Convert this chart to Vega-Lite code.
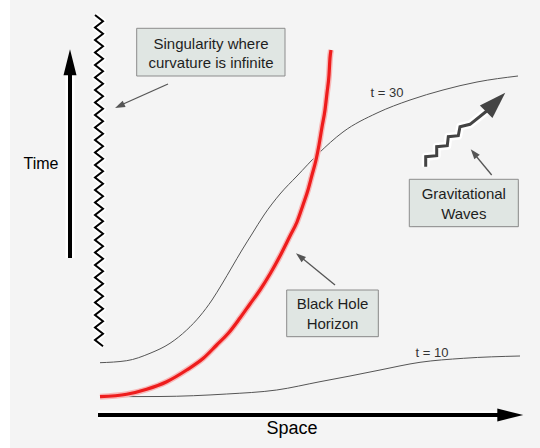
{
  "$schema": "https://vega.github.io/schema/vega-lite/v6.json",
  "width": 540,
  "height": 448,
  "padding": 0,
  "autosize": {"type": "fit", "contains": "padding"},
  "background": "#f4f4f4",
  "config": {"view": {"stroke": null}},
  "datasets": {
    "strip": [{"x": 0, "x2": 10, "y": 0, "y2": 448}],
    "boxes": [
      {"x": 136.7, "x2": 285, "y": 28.3, "y2": 76},
      {"x": 409.3, "x2": 518.3, "y": 179.3, "y2": 226.7},
      {"x": 286.7, "x2": 378.3, "y": 290, "y2": 336.7}
    ],
    "boxText": [
      {"x": 211, "y": 43.5, "t": "Singularity where"},
      {"x": 211, "y": 63, "t": "curvature is infinite"},
      {"x": 463.8, "y": 193.5, "t": "Gravitational"},
      {"x": 463.8, "y": 213.5, "t": "Waves"},
      {"x": 332.5, "y": 304, "t": "Black Hole"},
      {"x": 332.5, "y": 323.5, "t": "Horizon"}
    ],
    "zig": [
      {"x": 95, "y": 15}, {"x": 103, "y": 21.25}, {"x": 95, "y": 27.5}, {"x": 103, "y": 33.75},
      {"x": 95, "y": 40}, {"x": 103, "y": 46.25}, {"x": 95, "y": 52.5}, {"x": 103, "y": 58.75},
      {"x": 95, "y": 65}, {"x": 103, "y": 71.25}, {"x": 95, "y": 77.5}, {"x": 103, "y": 83.75},
      {"x": 95, "y": 90}, {"x": 103, "y": 96.25}, {"x": 95, "y": 102.5}, {"x": 103, "y": 108.75},
      {"x": 95, "y": 115}, {"x": 103, "y": 121.25}, {"x": 95, "y": 127.5}, {"x": 103, "y": 133.75},
      {"x": 95, "y": 140}, {"x": 103, "y": 146.25}, {"x": 95, "y": 152.5}, {"x": 103, "y": 158.75},
      {"x": 95, "y": 165}, {"x": 103, "y": 171.25}, {"x": 95, "y": 177.5}, {"x": 103, "y": 183.75},
      {"x": 95, "y": 190}, {"x": 103, "y": 196.25}, {"x": 95, "y": 202.5}, {"x": 103, "y": 208.75},
      {"x": 95, "y": 215}, {"x": 103, "y": 221.25}, {"x": 95, "y": 227.5}, {"x": 103, "y": 233.75},
      {"x": 95, "y": 240}, {"x": 103, "y": 246.25}, {"x": 95, "y": 252.5}, {"x": 103, "y": 258.75},
      {"x": 95, "y": 265}, {"x": 103, "y": 271.25}, {"x": 95, "y": 277.5}, {"x": 103, "y": 283.75},
      {"x": 95, "y": 290}, {"x": 103, "y": 296.25}, {"x": 95, "y": 302.5}, {"x": 103, "y": 308.75},
      {"x": 95, "y": 315}, {"x": 103, "y": 321.25}, {"x": 95, "y": 327.5}, {"x": 103, "y": 333.75},
      {"x": 95, "y": 340}, {"x": 103, "y": 346.25}
    ],
    "red": [
      {"x": 100, "y": 396.7}, {"x": 126.7, "y": 394.3}, {"x": 146.7, "y": 389.3}, {"x": 166.7, "y": 381.7},
      {"x": 186.7, "y": 370}, {"x": 203.3, "y": 358.3}, {"x": 216.7, "y": 345}, {"x": 228.3, "y": 333.3},
      {"x": 240, "y": 318}, {"x": 250, "y": 304}, {"x": 260, "y": 290}, {"x": 270, "y": 274},
      {"x": 280, "y": 256}, {"x": 290, "y": 236}, {"x": 297, "y": 222}, {"x": 303, "y": 205},
      {"x": 308, "y": 190}, {"x": 312, "y": 175}, {"x": 316, "y": 160}, {"x": 319, "y": 145},
      {"x": 322, "y": 127}, {"x": 325, "y": 110}, {"x": 327, "y": 93}, {"x": 329, "y": 75},
      {"x": 330, "y": 58}, {"x": 331, "y": 50}
    ],
    "t30": [
      {"x": 100, "y": 362.7}, {"x": 126.7, "y": 360.7}, {"x": 150, "y": 353.3}, {"x": 170, "y": 343.3},
      {"x": 186.7, "y": 330}, {"x": 200, "y": 316}, {"x": 212, "y": 300}, {"x": 222, "y": 284},
      {"x": 232, "y": 267}, {"x": 242, "y": 250}, {"x": 252, "y": 234}, {"x": 264, "y": 215},
      {"x": 280, "y": 194}, {"x": 297, "y": 176}, {"x": 318, "y": 154}, {"x": 343, "y": 132},
      {"x": 377, "y": 113}, {"x": 410, "y": 100}, {"x": 443, "y": 90}, {"x": 477, "y": 82},
      {"x": 518, "y": 76}
    ],
    "t10": [
      {"x": 100, "y": 396.7}, {"x": 160, "y": 396.5}, {"x": 226.7, "y": 394}, {"x": 276.7, "y": 390},
      {"x": 320, "y": 381.7}, {"x": 350, "y": 376}, {"x": 380, "y": 370}, {"x": 420, "y": 362.3},
      {"x": 463.3, "y": 358.3}, {"x": 520, "y": 356}
    ],
    "wave": [
      {"x": 425.7, "y": 166.7}, {"x": 425.7, "y": 156.7}, {"x": 436.7, "y": 155.7}, {"x": 436.7, "y": 146.7},
      {"x": 447.3, "y": 145.7}, {"x": 448.3, "y": 136.7}, {"x": 458.3, "y": 135.7}, {"x": 460, "y": 126.7},
      {"x": 470, "y": 124.3}, {"x": 488, "y": 110}
    ],
    "bigShafts": [
      {"x": 70, "y": 258, "x2": 70, "y2": 70},
      {"x": 98, "y": 415, "x2": 500, "y2": 415}
    ],
    "smallShafts": [
      {"x": 168, "y": 84, "x2": 121, "y2": 105},
      {"x": 335, "y": 285, "x2": 302, "y2": 258},
      {"x": 491.7, "y": 175, "x2": 476, "y2": 156}
    ]
  },
  "encoding": {
    "x": {"field": "x", "type": "quantitative", "scale": {"domain": [0, 540], "nice": false, "zero": false}, "axis": null},
    "y": {"field": "y", "type": "quantitative", "scale": {"domain": [0, 448], "nice": false, "zero": false, "reverse": true}, "axis": null}
  },
  "layer": [
    {"data": {"name": "strip"}, "mark": {"type": "rect", "fill": "#ffffff"},
     "encoding": {"x2": {"field": "x2"}, "y2": {"field": "y2"}}},
    {"data": {"name": "boxes"}, "mark": {"type": "rect", "fill": "#707070", "xOffset": 3, "yOffset": 3},
     "encoding": {"x2": {"field": "x2"}, "y2": {"field": "y2"}}},
    {"data": {"name": "boxes"}, "mark": {"type": "rect", "fill": "#e0e6e3", "stroke": "#8c8c8c", "strokeWidth": 1},
     "encoding": {"x2": {"field": "x2"}, "y2": {"field": "y2"}}},
    {"data": {"name": "t30"}, "mark": {"type": "line", "color": "#555555", "strokeWidth": 1, "interpolate": "monotone"},
     "encoding": {"order": {"value": null}}},
    {"data": {"name": "t10"}, "mark": {"type": "line", "color": "#555555", "strokeWidth": 1, "interpolate": "monotone"},
     "encoding": {"order": {"value": null}}},
    {"data": {"name": "red"}, "mark": {"type": "line", "color": "#f7b8b8", "strokeWidth": 6, "interpolate": "monotone"},
     "encoding": {"order": {"value": null}}},
    {"data": {"name": "red"}, "mark": {"type": "line", "color": "#ee1c1c", "strokeWidth": 3.2, "interpolate": "monotone"},
     "encoding": {"order": {"value": null}}},
    {"data": {"name": "zig"}, "mark": {"type": "line", "color": "#ffffff", "strokeWidth": 6, "strokeJoin": "round"},
     "encoding": {"order": {"value": null}}},
    {"data": {"name": "zig"}, "mark": {"type": "line", "color": "#000000", "strokeWidth": 2, "strokeJoin": "miter"},
     "encoding": {"order": {"value": null}}},
    {"data": {"name": "bigShafts"}, "mark": {"type": "rule", "color": "#ffffff", "strokeWidth": 9},
     "encoding": {"x2": {"field": "x2"}, "y2": {"field": "y2"}}},
    {"data": {"name": "bigShafts"}, "mark": {"type": "rule", "color": "#000000", "strokeWidth": 4},
     "encoding": {"x2": {"field": "x2"}, "y2": {"field": "y2"}}},
    {"data": {"values": [{"x": 70, "y": 62.3}]},
     "mark": {"type": "point", "shape": "M0,-1L0.5,1L-0.5,1Z", "size": 676, "filled": true, "color": "#000000", "opacity": 1, "angle": 0}},
    {"data": {"values": [{"x": 510.3, "y": 415}]},
     "mark": {"type": "point", "shape": "M0,-1L0.5,1L-0.5,1Z", "size": 676, "filled": true, "color": "#000000", "opacity": 1, "angle": 90}},
    {"data": {"name": "wave"}, "mark": {"type": "line", "color": "#ffffff", "strokeWidth": 8, "strokeJoin": "round"},
     "encoding": {"order": {"value": null}}},
    {"data": {"name": "wave"}, "mark": {"type": "line", "color": "#444444", "strokeWidth": 3, "strokeJoin": "miter"},
     "encoding": {"order": {"value": null}}},
    {"data": {"values": [{"x": 495.7, "y": 102.2}]},
     "mark": {"type": "point", "shape": "M0,-1L0.66,1L-0.66,1Z", "size": 729, "filled": true, "color": "#444444", "opacity": 1, "angle": 45}},
    {"data": {"name": "smallShafts"}, "mark": {"type": "rule", "color": "#555555", "strokeWidth": 1.3},
     "encoding": {"x2": {"field": "x2"}, "y2": {"field": "y2"}}},
    {"data": {"values": [{"x": 119.6, "y": 105.9}]},
     "mark": {"type": "point", "shape": "M0,-1L0.7,1L-0.7,1Z", "size": 100, "filled": true, "color": "#555555", "opacity": 1, "angle": 245.7}},
    {"data": {"values": [{"x": 299.9, "y": 256.5}]},
     "mark": {"type": "point", "shape": "M0,-1L0.7,1L-0.7,1Z", "size": 100, "filled": true, "color": "#555555", "opacity": 1, "angle": 309.1}},
    {"data": {"values": [{"x": 473.9, "y": 153.2}]},
     "mark": {"type": "point", "shape": "M0,-1L0.7,1L-0.7,1Z", "size": 100, "filled": true, "color": "#555555", "opacity": 1, "angle": 320.7}},
    {"data": {"name": "boxText"},
     "mark": {"type": "text", "font": "Liberation Sans", "fontSize": 15, "color": "#1e1e1e", "align": "center", "baseline": "middle"},
     "encoding": {"text": {"field": "t"}}},
    {"data": {"values": [{"x": 41, "y": 163.5, "t": "Time"}]},
     "mark": {"type": "text", "font": "Liberation Sans", "fontSize": 16, "color": "#000000", "align": "center", "baseline": "middle"},
     "encoding": {"text": {"field": "t"}}},
    {"data": {"values": [{"x": 292, "y": 428.5, "t": "Space"}]},
     "mark": {"type": "text", "font": "Liberation Sans", "fontSize": 18, "color": "#000000", "align": "center", "baseline": "middle"},
     "encoding": {"text": {"field": "t"}}},
    {"data": {"values": [{"x": 387, "y": 93, "t": "t = 30"}, {"x": 432, "y": 352.7, "t": "t = 10"}]},
     "mark": {"type": "text", "font": "Liberation Sans", "fontSize": 13, "color": "#333333", "align": "center", "baseline": "middle"},
     "encoding": {"text": {"field": "t"}}}
  ]
}
